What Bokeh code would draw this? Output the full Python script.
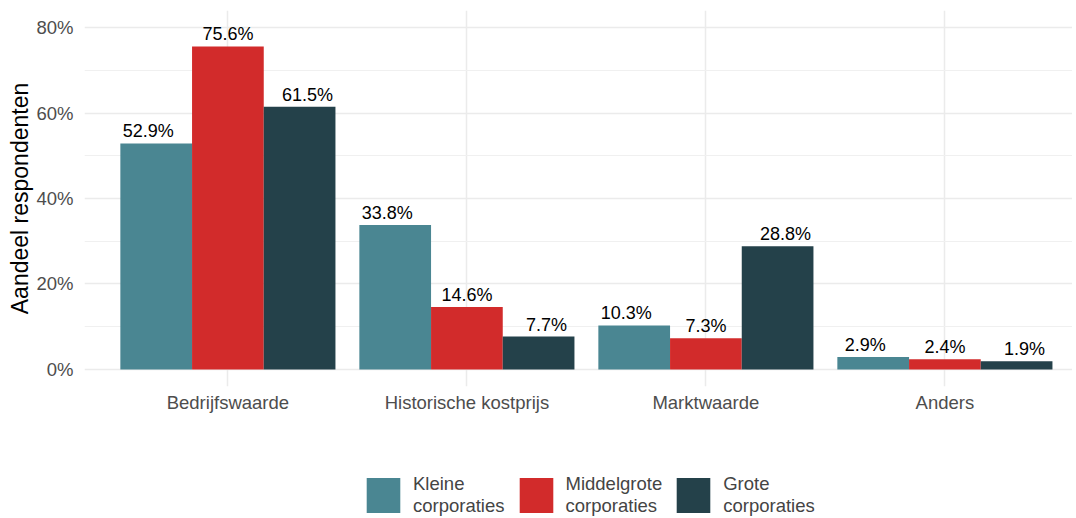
from bokeh.plotting import figure
from bokeh.models import (ColumnDataSource, Range1d, FixedTicker, Legend, LegendItem,
                          PrintfTickFormatter)
from bokeh.layouts import column
from bokeh.core.properties import value
from bokeh.embed import file_html
from bokeh.resources import INLINE

categories = ["Bedrijfswaarde", "Historische kostprijs", "Marktwaarde", "Anders"]
series_names = ["Kleine\ncorporaties", "Middelgrote\ncorporaties", "Grote\ncorporaties"]
kleine = [52.9, 33.8, 10.3, 2.9]
middelgrote = [75.6, 14.6, 7.3, 2.4]
grote = [61.5, 7.7, 28.8, 1.9]
colors = ["#4A8692", "#D22B2B", "#24414A"]
y_ticks = [0, 20, 40, 60, 80]

FONT = "Liberation Sans"
W = 1072
LEFT = 84

p = figure(width=W, height=446, output_backend="svg", toolbar_location=None,
           x_range=Range1d(0.4, 0.4 + (W - LEFT) / 239.0), y_range=Range1d(-4, 84),
           min_border_left=LEFT, min_border_right=0, min_border_top=10, min_border_bottom=60)
p.outline_line_color = None

xs = list(range(1, len(categories) + 1))
for i, (vals, col) in enumerate(zip([kleine, middelgrote, grote], colors)):
    bar_off = (i - 1) * 0.3
    lab_off = (i - 1) / 3.0
    src = ColumnDataSource(dict(
        x=[x + bar_off for x in xs],
        top=vals,
        lx=[x + lab_off for x in xs],
        txt=[f"{v:.1f}%" for v in vals],
    ))
    p.vbar(x="x", top="top", bottom=0, width=0.3, source=src, fill_color=col, line_color=None)
    p.text(x="lx", y="top", text="txt", source=src, text_align="center", text_baseline="bottom",
           y_offset=-2, text_font=value(FONT), text_font_size="18px", text_color="black")

# axes
p.xaxis.ticker = FixedTicker(ticks=xs)
p.xaxis.major_label_overrides = {x: c for x, c in zip(xs, categories)}
p.yaxis.ticker = FixedTicker(ticks=y_ticks, minor_ticks=[10, 30, 50, 70])
p.yaxis.formatter = PrintfTickFormatter(format="%d%%")
for ax in (p.xaxis[0], p.yaxis[0]):
    ax.axis_line_color = None
    ax.major_tick_line_color = None
    ax.minor_tick_line_color = None
    ax.major_tick_out = 0
    ax.major_tick_in = 0
    ax.minor_tick_out = 0
    ax.minor_tick_in = 0
    ax.major_label_text_font = FONT
    ax.major_label_text_font_size = "18.5px"
    ax.major_label_text_color = "#4D4D4D"
p.yaxis.major_label_standoff = 11
p.xaxis.major_label_standoff = 5
p.yaxis.axis_label = "Aandeel respondenten"
p.yaxis.axis_label_text_font = FONT
p.yaxis.axis_label_text_font_size = "23px"
p.yaxis.axis_label_text_font_style = "normal"
p.yaxis.axis_label_text_color = "black"
p.yaxis.axis_label_standoff = 0

# grid
p.xgrid.ticker = FixedTicker(ticks=xs)
p.ygrid.ticker = FixedTicker(ticks=y_ticks, minor_ticks=[10, 30, 50, 70])
p.xgrid.grid_line_color = "#EBEBEB"
p.xgrid.grid_line_width = 1.5
p.ygrid.grid_line_color = "#EBEBEB"
p.ygrid.grid_line_width = 1.5
p.ygrid.minor_grid_line_color = "#F0F0F0"
p.ygrid.minor_grid_line_width = 1

# legend figure
lg = figure(width=W, height=72, output_backend="svg", toolbar_location=None,
            x_range=Range1d(0, 1), y_range=Range1d(0, 1),
            min_border_left=LEFT, min_border_right=0, min_border_top=0, min_border_bottom=0)
lg.outline_line_color = None
lg.axis.visible = False
lg.grid.visible = False
items = []
for name, col in zip(series_names, colors):
    r = lg.vbar(x=[0.5], top=[0], bottom=0, width=0.3, fill_color=col, line_color=None)
    items.append(LegendItem(label=name, renderers=[r]))
legend = Legend(items=items, orientation="horizontal", location=(278, 1),
                glyph_width=42, glyph_height=44, label_standoff=9, spacing=10,
                padding=0, margin=0, border_line_color=None, background_fill_alpha=0,
                label_text_font=FONT, label_text_font_size="18.5px",
                label_text_line_height=0.92)
lg.add_layout(legend)

layout = column(p, lg, spacing=0)
open("out.html", "w").write(file_html(layout, INLINE))
